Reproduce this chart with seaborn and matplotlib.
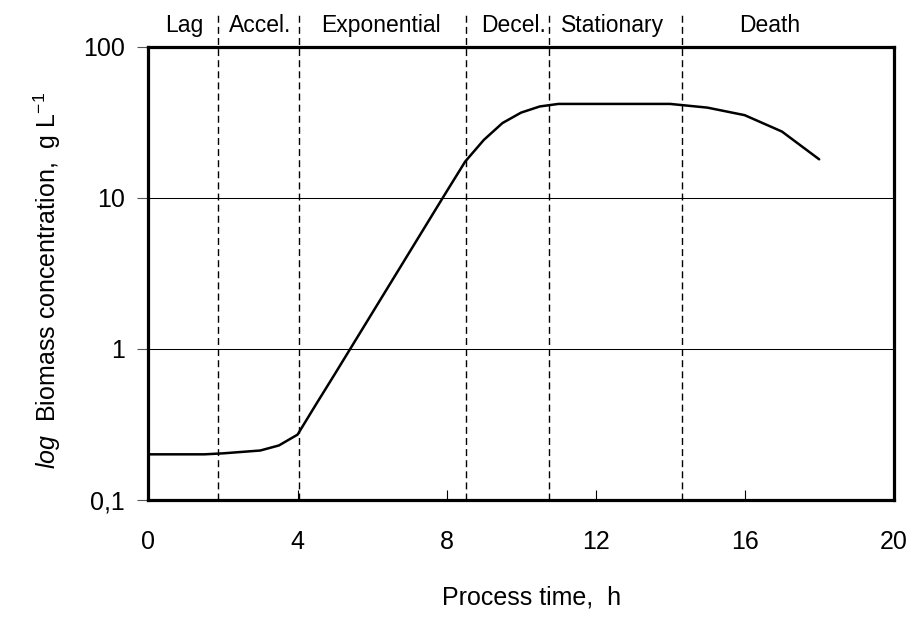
import matplotlib
matplotlib.use("Agg")
import matplotlib.pyplot as plt
import matplotlib.ticker as mticker
from matplotlib import font_manager
import seaborn as sns
import pandas as pd

# Batch growth curve: biomass concentration over process time
time_h = [0, 1.5, 2, 3, 3.5, 4, 4.5, 5, 6, 7, 8, 8.5, 9, 9.5, 10, 10.5,
          11, 12, 13, 14, 15, 16, 17, 18]
biomass = [0.20, 0.20, 0.203, 0.212, 0.229, 0.27, 0.43, 0.68, 1.72, 4.35,
           11.0, 17.4, 24.2, 31.3, 36.7, 40.3, 41.9, 41.9, 41.9, 41.9,
           39.6, 35.3, 27.5, 18.0]

# Growth phase boundaries (h) and phase names with their label positions
phase_bounds = [1.86, 4.03, 8.51, 10.75, 14.32]
phase_names = ["Lag", "Accel.", "Exponential", "Decel.", "Stationary", "Death"]
phase_label_x = [0.95, 2.99, 6.25, 9.80, 12.45, 16.67]

x_ticks = [0, 4, 8, 12, 16, 20]
y_ticks = [0.1, 1, 10, 100]
y_tick_labels = ["0,1", "1", "10", "100"]

sns.set_theme(style="white")
plt.rcParams["font.family"] = ["Liberation Sans", "DejaVu Sans"]
plt.rcParams["mathtext.fontset"] = "custom"
plt.rcParams["mathtext.rm"] = "Liberation Sans"
plt.rcParams["mathtext.it"] = "Liberation Sans:italic"
plt.rcParams["text.color"] = "black"
plt.rcParams["axes.labelcolor"] = "black"
plt.rcParams["xtick.color"] = "black"
plt.rcParams["ytick.color"] = "black"

# condensed face for the phase names when available
installed = {f.name for f in font_manager.fontManager.ttflist}
if "Liberation Sans Narrow" in installed:
    phase_font, phase_size = "Liberation Sans Narrow", 18.5
else:
    phase_font, phase_size = "Liberation Sans", 16.5

df = pd.DataFrame({"time": time_h, "biomass": biomass})

fig = plt.figure(figsize=(9.11, 6.17), dpi=100)
ax = fig.add_axes([0.163, 0.190, 0.818, 0.734])

sns.lineplot(data=df, x="time", y="biomass", ax=ax, color="black",
             linewidth=1.8, sort=False, zorder=5)

ax.set_yscale("log")
ax.set_xlim(0, 20)
ax.set_ylim(0.1, 100)

# horizontal reference lines at decades
for yv in [1, 10]:
    ax.axhline(yv, color="black", linewidth=0.75, zorder=2)

# phase boundaries, extended above the frame
for xb in phase_bounds:
    ax.axvline(xb, ymin=0, ymax=1.075, color="black", linewidth=1.0,
               linestyle=(0, (5, 3)), clip_on=False, zorder=3)

for name, xl in zip(phase_names, phase_label_x):
    ax.text(xl, 1.048, name, transform=ax.get_xaxis_transform(),
            ha="center", va="center", fontsize=phase_size,
            family=[phase_font, "DejaVu Sans"], color="black")

ax.set_xticks(x_ticks)
ax.set_xticklabels([str(v) for v in x_ticks])
ax.yaxis.set_major_locator(mticker.FixedLocator(y_ticks))
ax.yaxis.set_major_formatter(mticker.FixedFormatter(y_tick_labels))
ax.yaxis.set_minor_locator(mticker.NullLocator())
ax.xaxis.set_minor_locator(mticker.NullLocator())

ax.tick_params(axis="x", direction="in", length=7, width=0.8, color="black",
               labelcolor="black", labelsize=18, pad=22, bottom=True, top=False)
ax.tick_params(axis="y", direction="out", length=8, width=0.8, color="#555555",
               labelcolor="black", labelsize=18, pad=9, left=True, right=False)

for side in ["left", "right", "top", "bottom"]:
    ax.spines[side].set_visible(True)
    ax.spines[side].set_color("black")
    ax.spines[side].set_linewidth(2.3)

ax.set_xlabel("")
ax.set_ylabel("")
ax.grid(False)

fig.text(531.7 / 911, 1 - 597 / 617, "Process time,  h", ha="center",
         va="center", fontsize=18, color="black")
fig.text(47.5 / 911, 1 - 280 / 617,
         r"$\it{log}$  Biomass concentration,  g L$^{-1}$",
         rotation=90, ha="center", va="center", fontsize=18, color="black")

fig.savefig("out.png", dpi=100)
